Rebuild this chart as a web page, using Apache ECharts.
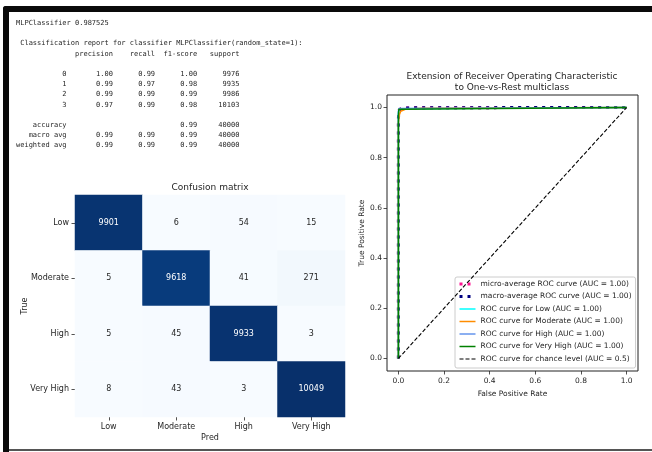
<!DOCTYPE html>
<html>
<head>
<meta charset="utf-8">
<script src="https://cdn.jsdelivr.net/npm/echarts@6/dist/echarts.min.js"></script>
<style>
  html, body { margin: 0; padding: 0; background: #fff; }
  #main { width: 652px; height: 452px; }
</style>
</head>
<body>
<div id="main"></div>
<script>
// ---- classification report ----
const modelName = 'MLPClassifier';
const modelRepr = 'MLPClassifier(random_state=1)';
const accuracyScore = '0.987525';
const reportHeaders = ['precision', 'recall', 'f1-score', 'support'];
const reportLabels = ['0', '1', '2', '3'];
const precision = [1.00, 0.99, 0.99, 0.97];
const recall = [0.99, 0.97, 0.99, 0.99];
const f1Score = [1.00, 0.98, 0.99, 0.98];
const support = [9976, 9935, 9986, 10103];
const summaryLabels = ['accuracy', 'macro avg', 'weighted avg'];
const summaryPrecision = [null, 0.99, 0.99];
const summaryRecall = [null, 0.99, 0.99];
const summaryF1 = [0.99, 0.99, 0.99];
const summarySupport = [40000, 40000, 40000];

// ---- confusion matrix (rows: true, columns: predicted) ----
const classNames = ['Low', 'Moderate', 'High', 'Very High'];
const confusionLow = [9901, 6, 54, 15];
const confusionModerate = [5, 9618, 41, 271];
const confusionHigh = [5, 45, 9933, 3];
const confusionVeryHigh = [8, 43, 3, 10049];
const confusionRows = [confusionLow, confusionModerate, confusionHigh, confusionVeryHigh];

// ---- ROC curves, points are [false positive rate, true positive rate] ----
const rocTicks = [0, 0.2, 0.4, 0.6, 0.8, 1.0];
const microRoc = [[0, 0], [0, 0.96], [0.002, 0.985], [0.005, 0.993], [0.02, 0.998], [0.1, 0.9995], [1, 1]];
const macroRoc = [[0, 0], [0, 0.955], [0.002, 0.983], [0.005, 0.992], [0.02, 0.998], [0.1, 0.9995], [1, 1]];
const lowRoc = [[0, 0], [0, 0.98], [0.003, 0.995], [0.01, 0.999], [1, 1]];
const moderateRoc = [[0, 0], [0, 0.94], [0.004, 0.97], [0.01, 0.985], [0.03, 0.993], [0.1, 0.997], [1, 1]];
const highRoc = [[0, 0], [0, 0.985], [0.002, 0.996], [0.01, 0.999], [1, 1]];
const veryHighRoc = [[0, 0], [0, 0.97], [0.002, 0.993], [0.008, 0.998], [1, 1]];
const chanceRoc = [[0, 0], [1, 1]];
const rocAuc = ['1.00', '1.00', '1.00', '1.00', '1.00', '1.00', '0.5'];

// ---- build the report text in the same column layout sklearn prints ----
function fmt(v) { return v === null ? '' : v.toFixed(2); }
const W = 12;
const reportLines = [];
reportLines.push(modelName + ' ' + accuracyScore);
reportLines.push('');
reportLines.push(' Classification report for classifier ' + modelRepr + ':');
reportLines.push(''.padStart(W) + ' ' + reportHeaders.map(h => ' ' + h.padStart(9)).join(''));
reportLines.push('');
reportLabels.forEach((lab, i) => {
  reportLines.push(lab.padStart(W) + ' ' +
    [fmt(precision[i]), fmt(recall[i]), fmt(f1Score[i]), String(support[i])].map(s => ' ' + s.padStart(9)).join(''));
});
reportLines.push('');
summaryLabels.forEach((lab, i) => {
  reportLines.push(lab.padStart(W) + ' ' +
    [fmt(summaryPrecision[i]), fmt(summaryRecall[i]), fmt(summaryF1[i]), String(summarySupport[i])].map(s => ' ' + s.padStart(9)).join(''));
});

// ---- heatmap cells ----
const maxCount = Math.max(...confusionRows.flat());
const minCount = Math.min(...confusionRows.flat());
const heatData = [];
confusionRows.forEach((row, i) => {
  row.forEach((v, j) => {
    heatData.push({
      value: [j, i, v],
      label: { color: v > maxCount / 2 ? '#ffffff' : '#262626' }
    });
  });
});

const blues = ['#f7fbff', '#deebf7', '#c6dbef', '#9ecae1', '#6baed6', '#4292c6', '#2171b5', '#08519c', '#08306b'];

const rocSeriesDefs = [
  { name: 'micro-average ROC curve', data: microRoc, color: '#ff1493', width: 3, type: [3, 5] },
  { name: 'macro-average ROC curve', data: macroRoc, color: '#000080', width: 3, type: [3, 5] },
  { name: 'ROC curve for Low', data: lowRoc, color: '#00ffff', width: 1.5, type: 'solid' },
  { name: 'ROC curve for Moderate', data: moderateRoc, color: '#ff8c00', width: 1.5, type: 'solid' },
  { name: 'ROC curve for High', data: highRoc, color: '#6495ed', width: 1.5, type: 'solid' },
  { name: 'ROC curve for Very High', data: veryHighRoc, color: '#008000', width: 1.5, type: 'solid' },
  { name: 'ROC curve for chance level', data: chanceRoc, color: '#000000', width: 1.1, type: [4, 2] }
];
const rocSeries = rocSeriesDefs.map((d, k) => ({
  type: 'line',
  name: d.name + ' (AUC = ' + rocAuc[k] + ')',
  xAxisIndex: 1,
  yAxisIndex: 1,
  data: d.data,
  symbol: 'none',
  showSymbol: false,
  silent: true,
  color: d.color,
  lineStyle: { color: d.color, width: d.width, type: d.type, cap: 'butt' },
  z: 3 + k
}));

const axisText = { fontFamily: 'DejaVu Sans', color: '#262626' };

const chart = echarts.init(document.getElementById('main'), null, { renderer: 'canvas' });
chart.setOption({
  animation: false,
  backgroundColor: '#ffffff',
  title: [
    {
      text: 'Confusion matrix',
      left: 205, top: 178, textAlign: 'center',
      textStyle: { fontFamily: 'DejaVu Sans', fontSize: 9, fontWeight: 'normal', color: '#262626' }
    },
    {
      text: 'Extension of Receiver Operating Characteristic\nto One-vs-Rest multiclass',
      left: 507, top: 66, textAlign: 'center',
      textStyle: { fontFamily: 'DejaVu Sans', fontSize: 9, lineHeight: 11, fontWeight: 'normal', color: '#262626' }
    }
  ],
  grid: [
    { left: 75, top: 195, width: 270, height: 222 },
    { left: 387, top: 95, width: 251, height: 276, show: true, borderColor: '#222', borderWidth: 1, backgroundColor: 'transparent' }
  ],
  xAxis: [
    {
      gridIndex: 0, type: 'category', data: classNames,
      name: 'Pred', nameLocation: 'middle', nameGap: 17,
      nameTextStyle: Object.assign({ fontSize: 8 }, axisText),
      axisLine: { show: false },
      axisTick: { show: true, alignWithLabel: true, length: 3.5, lineStyle: { color: '#262626', width: 0.8 } },
      axisLabel: Object.assign({ fontSize: 8, margin: 6 }, axisText),
      splitLine: { show: false }
    },
    {
      gridIndex: 1, type: 'value', min: -0.05, max: 1.05,
      name: 'False Positive Rate', nameLocation: 'middle', nameGap: 18,
      nameTextStyle: Object.assign({ fontSize: 7.5 }, axisText),
      axisLine: { show: false, onZero: false },
      axisTick: { show: true, customValues: rocTicks, length: 3.5, lineStyle: { color: '#262626', width: 0.8 } },
      axisLabel: Object.assign({ fontSize: 7.5, margin: 6, customValues: rocTicks, formatter: v => Number(v).toFixed(1) }, axisText),
      splitLine: { show: false }
    }
  ],
  yAxis: [
    {
      gridIndex: 0, type: 'category', data: classNames, inverse: true,
      name: 'True', nameLocation: 'middle', nameGap: 46, nameRotate: 90, nameMoveOverlap: false,
      nameTextStyle: Object.assign({ fontSize: 8 }, axisText),
      axisLine: { show: false },
      axisTick: { show: true, alignWithLabel: true, length: 3.5, lineStyle: { color: '#262626', width: 0.8 } },
      axisLabel: Object.assign({ fontSize: 8, margin: 6 }, axisText),
      splitLine: { show: false }
    },
    {
      gridIndex: 1, type: 'value', min: -0.05, max: 1.05,
      name: 'True Positive Rate', nameLocation: 'middle', nameGap: 21, nameRotate: 90,
      nameTextStyle: Object.assign({ fontSize: 7.5 }, axisText),
      axisLine: { show: false, onZero: false },
      axisTick: { show: true, customValues: rocTicks, length: 3.5, lineStyle: { color: '#262626', width: 0.8 } },
      axisLabel: Object.assign({ fontSize: 7.5, margin: 5, customValues: rocTicks, formatter: v => Number(v).toFixed(1) }, axisText),
      splitLine: { show: false }
    }
  ],
  visualMap: {
    type: 'continuous', show: false, seriesIndex: 0, dimension: 2,
    min: minCount, max: maxCount,
    inRange: { color: blues }
  },
  legend: {
    orient: 'vertical',
    left: 455, top: 277,
    padding: [3, 4, 5, 3],
    itemWidth: 16, itemHeight: 6, itemGap: 4.5,
    backgroundColor: 'rgba(255,255,255,0.85)',
    borderColor: '#cccccc', borderWidth: 1, borderRadius: 2,
    selectedMode: false,
    itemStyle: { color: 'rgba(0,0,0,0)', borderWidth: 0, opacity: 0 },
    lineStyle: { width: 'inherit' },
    textStyle: { fontFamily: 'DejaVu Sans', fontSize: 7.5, lineHeight: 8, color: '#262626' },
    data: rocSeries.map(s => s.name)
  },
  graphic: [
    // dark frame around the output cell
    { type: 'rect', shape: { x: 3, y: 6, width: 649, height: 6, r: [3, 0, 0, 0] }, style: { fill: '#0a0a0a' }, silent: true },
    { type: 'rect', shape: { x: 3, y: 6, width: 6, height: 446, r: [3, 0, 0, 0] }, style: { fill: '#0a0a0a' }, silent: true },
    { type: 'rect', shape: { x: 9, y: 449, width: 643, height: 2 }, style: { fill: '#555555' }, silent: true },
    {
      type: 'text', left: 16, top: 18, silent: true,
      style: {
        text: reportLines.join('\n'),
        fontFamily: 'DejaVu Sans Mono', fontSize: 7, lineHeight: 10.2,
        fill: '#262626'
      }
    }
  ],
  series: [
    {
      type: 'heatmap',
      xAxisIndex: 0, yAxisIndex: 0,
      data: heatData,
      label: { show: true, fontFamily: 'DejaVu Sans', fontSize: 8 },
      itemStyle: { borderWidth: 0 },
      silent: true
    }
  ].concat(rocSeries)
});
</script>
</body>
</html>
